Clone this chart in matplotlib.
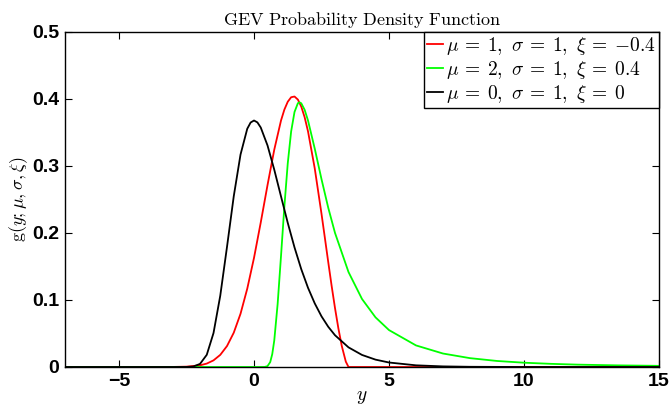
import matplotlib
matplotlib.use("Agg")
import matplotlib.pyplot as plt

plt.rcParams["mathtext.fontset"] = "cm"

# values
black_x = [-7, -3, -2.5, -2.25, -2, -1.75, -1.5, -1.25, -1, -0.75, -0.5, -0.25, -0.125, 0,
           0.125, 0.25, 0.5, 0.75, 1, 1.25, 1.5, 1.75, 2, 2.25, 2.5, 2.75, 3, 3.5, 4, 4.5,
           5, 6, 7, 8, 10, 15]
black_y = [0, 0, 0.0001, 0.0007, 0.0046, 0.0182, 0.0507, 0.1064, 0.1794, 0.2549, 0.3170,
           0.3556, 0.3649, 0.3679, 0.3651, 0.3574, 0.3307, 0.2945, 0.2546, 0.2151, 0.1785,
           0.1460, 0.1182, 0.0949, 0.0756, 0.0600, 0.0474, 0.0293, 0.0180, 0.0110, 0.0067,
           0.0025, 0.0009, 0.0003, 0.0000, 0]

red_x = [-7, -3, -2.5, -2, -1.75, -1.5, -1.25, -1, -0.75, -0.5, -0.25, 0, 0.25, 0.5, 0.75,
         1, 1.125, 1.25, 1.375, 1.5, 1.625, 1.75, 1.875, 2, 2.25, 2.5, 2.625, 2.75, 2.875,
         3, 3.125, 3.25, 3.4, 3.5, 15]
red_y = [0, 0.0001, 0.0005, 0.0025, 0.0051, 0.0099, 0.0181, 0.0313, 0.0512, 0.0794, 0.1169,
         0.1629, 0.2158, 0.2714, 0.3243, 0.3679, 0.3842, 0.3959, 0.4026, 0.4037, 0.3991,
         0.3887, 0.3728, 0.3517, 0.2963, 0.2286, 0.1926, 0.1564, 0.1211, 0.0879, 0.0576,
         0.0315, 0.0080, 0, 0]

green_x = [-7, 0.25, 0.4, 0.5, 0.6, 0.675, 0.75, 0.875, 1, 1.125, 1.25, 1.375, 1.5, 1.625,
           1.685, 1.75, 1.875, 2, 2.25, 2.5, 2.75, 3, 3.5, 4, 4.5, 5, 6, 7, 8, 9, 10, 11,
           12, 13.5, 15]
green_y = [0, 0, 0.0001, 0.0013, 0.0073, 0.0191, 0.0395, 0.0940, 0.1656, 0.2398, 0.3040,
           0.3515, 0.3806, 0.3937, 0.3950, 0.3936, 0.3839, 0.3679, 0.3258, 0.2803, 0.2376,
           0.2001, 0.1417, 0.1015, 0.0741, 0.0551, 0.0322, 0.0201, 0.0132, 0.0090, 0.0064,
           0.0047, 0.0035, 0.0024, 0.0017]

labels = [r"$\mu\:=\:1,\ \sigma\:=\:1,\ \xi\:=\:{-0.4}$",
          r"$\mu\:=\:2,\ \sigma\:=\:1,\ \xi\:=\:0.4$",
          r"$\mu\:=\:0,\ \sigma\:=\:1,\ \xi\:=\:0$"]

fig = plt.figure(figsize=(6.71, 4.08), dpi=100)
ax = fig.add_axes([0.0969, 0.1005, 0.8852, 0.8211])

ax.plot(red_x, red_y, color="#ff0000", lw=1.3, label=labels[0])
ax.plot(green_x, green_y, color="#00ff00", lw=1.3, label=labels[1])
ax.plot(black_x, black_y, color="black", lw=1.3, label=labels[2])

ax.set_xlim(-7, 15)
ax.set_ylim(0, 0.5)
ax.set_xticks([-5, 0, 5, 10, 15])
ax.set_xticklabels(["\u22125", "0", "5", "10", "15"])
ax.set_yticks([0, 0.1, 0.2, 0.3, 0.4, 0.5])
ax.set_yticklabels(["0", "0.1", "0.2", "0.3", "0.4", "0.5"])
ax.tick_params(direction="in", top=True, right=True, length=5, width=0.8, pad=4)
for lab in ax.get_xticklabels() + ax.get_yticklabels():
    lab.set_family("Liberation Sans")
    lab.set_fontweight("bold")
    lab.set_fontsize(14)
for s in ax.spines.values():
    s.set_linewidth(1.0)

ax.set_title(r"$\mathrm{GEV\ Probability\ Density\ Function}$", fontsize=13, pad=5)
ax.set_xlabel(r"$y$", fontsize=14, labelpad=-2)
ax.set_ylabel(r"$\mathrm{g}(y;\mu,\sigma,\xi)$", fontsize=13, labelpad=2)

leg = ax.legend(loc="upper right", fontsize=14, handlelength=0.8, handletextpad=0.2,
                borderaxespad=0, borderpad=0.15, labelspacing=0.1, fancybox=False,
                framealpha=1, edgecolor="black")
leg.get_frame().set_linewidth(1.0)

fig.savefig("out.png", dpi=100)
